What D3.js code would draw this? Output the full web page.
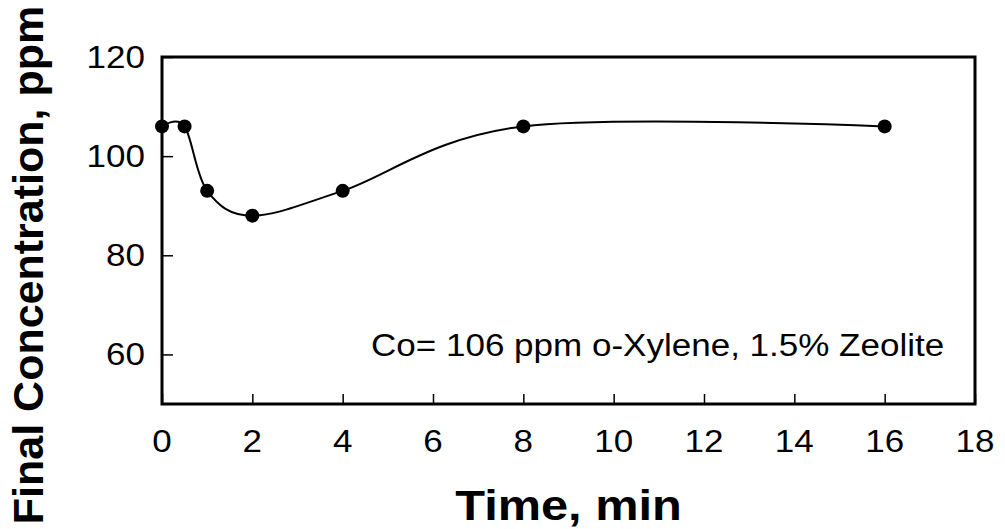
<!DOCTYPE html>
<html>
<head>
<meta charset="utf-8">
<script src="https://cdn.jsdelivr.net/npm/d3@7"></script>
<style>
  html, body { margin: 0; padding: 0; background: #fff; }
  svg text { font-family: "Liberation Sans", Arial, sans-serif; fill: #000; }
</style>
</head>
<body>
<svg id="chart" width="1005" height="529"></svg>
<script>
// data
const time = [0, 0.5, 1, 2, 4, 8, 16];
const conc = [106, 106, 93, 88, 93, 106, 106];
const xTicks = [0, 2, 4, 6, 8, 10, 12, 14, 16, 18];
const yTicks = [60, 80, 100, 120];
const note = "Co= 106 ppm o-Xylene, 1.5% Zeolite";

const points = time.map((t, i) => ({ t: t, c: conc[i] }));

const svg = d3.select("#chart");
const plotL = 162, plotR = 975, plotT = 57, plotB = 404;
const stretch = 1.13; // the original text is a bit wider than Arial

const x = d3.scaleLinear().domain([0, 18]).range([plotL, plotR]);
const y = d3.scaleLinear().domain([50, 120]).range([plotB, plotT]);

// ticks (inside the frame)
svg.append("g")
    .attr("transform", `translate(0,${plotB})`)
    .call(d3.axisBottom(x).tickValues(xTicks).tickSize(-10).tickFormat(""))
    .call(g => g.select(".domain").remove())
    .selectAll("line").attr("stroke", "#000").attr("stroke-width", 1.5);

svg.append("g")
    .attr("transform", `translate(${plotL},0)`)
    .call(d3.axisLeft(y).tickValues(yTicks).tickSize(-11).tickFormat(""))
    .call(g => g.select(".domain").remove())
    .selectAll("line").attr("stroke", "#000").attr("stroke-width", 1.5);

// tick labels
svg.append("g").selectAll("text")
    .data(xTicks)
    .join("text")
    .attr("transform", d => `translate(${x(d)},452) scale(${stretch},1)`)
    .attr("text-anchor", "middle")
    .style("font-size", "31px")
    .text(d => d);

svg.append("g").selectAll("text")
    .data(yTicks)
    .join("text")
    .attr("transform", d => `translate(145,${y(d) + 11}) scale(${stretch},1)`)
    .attr("text-anchor", "end")
    .style("font-size", "31px")
    .text(d => d);

// frame
svg.append("rect")
    .attr("x", plotL)
    .attr("y", plotT)
    .attr("width", plotR - plotL)
    .attr("height", plotB - plotT)
    .attr("fill", "none")
    .attr("stroke", "#000")
    .attr("stroke-width", 3);

// smoothed line, like the spreadsheet one
const line = d3.line()
    .x(d => x(d.t))
    .y(d => y(d.c))
    .curve(d3.curveCatmullRom.alpha(0));

svg.append("path")
    .datum(points)
    .attr("d", line)
    .attr("fill", "none")
    .attr("stroke", "#000")
    .attr("stroke-width", 2);

svg.append("g").selectAll("circle")
    .data(points)
    .join("circle")
    .attr("cx", d => x(d.t))
    .attr("cy", d => y(d.c))
    .attr("r", 7)
    .attr("fill", "#000");

// note inside the plot
svg.append("text")
    .attr("transform", `translate(371,356) scale(${stretch},1)`)
    .style("font-size", "31px")
    .text(note);

// axis titles
svg.append("text")
    .attr("transform", `translate(${(plotL + plotR) / 2},520) scale(1.16,1)`)
    .attr("text-anchor", "middle")
    .style("font-size", "42px")
    .style("font-weight", "bold")
    .text("Time, min");

svg.append("text")
    .attr("transform", "translate(43,265) rotate(-90)")
    .attr("text-anchor", "middle")
    .style("font-size", "43px")
    .style("font-weight", "bold")
    .text("Final Concentration, ppm");
</script>
</body>
</html>
